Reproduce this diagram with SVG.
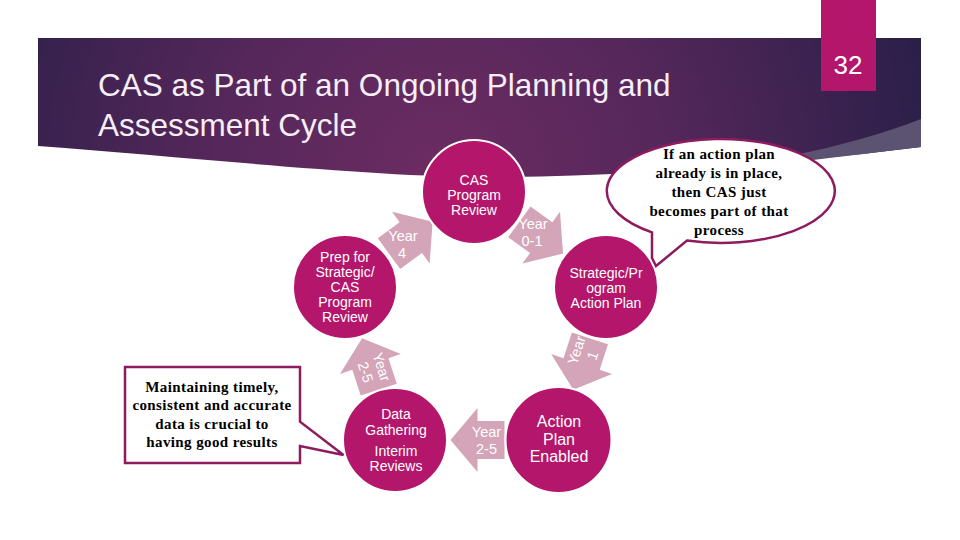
<svg xmlns="http://www.w3.org/2000/svg" xmlns:xlink="http://www.w3.org/1999/xlink" width="960" height="540" viewBox="0 0 960 540">
  <defs>
    <radialGradient id="bannerGrad" gradientUnits="userSpaceOnUse" cx="440" cy="175" r="500">
      <stop offset="0" stop-color="#6c2c62"/>
      <stop offset="0.45" stop-color="#55275b"/>
      <stop offset="1" stop-color="#2a1f48"/>
    </radialGradient>
    <polygon id="arrow" points="-27,-19 0,-19 0,-32 27,0 0,32 0,19 -27,19"/>
    <style>
      .title { font-family: "Liberation Sans", Arial, sans-serif; font-size: 31.5px; fill: #f7eef6; }
      .node circle { fill: #b3166b; stroke: #ffffff; stroke-width: 2; }
      .ntext { font-family: "Liberation Sans", Arial, sans-serif; font-size: 14px; fill: #ffffff; text-anchor: middle; }
      .big { font-size: 16px; }
      .arr { fill: #d4a5b8; }
      .atext { font-family: "Liberation Sans", Arial, sans-serif; font-size: 14.5px; fill: #ffffff; text-anchor: middle; }
      .callout { fill: #ffffff; stroke: #8e1b60; stroke-width: 2.5; stroke-linejoin: miter; }
      .ctext { font-family: "Liberation Serif", "Times New Roman", serif; font-weight: bold; font-size: 15px; letter-spacing: 0.4px; fill: #000000; text-anchor: middle; }
    </style>
  </defs>

  <rect x="0" y="0" width="960" height="540" fill="#ffffff"/>

  <!-- banner -->
  <g id="banner">
    <path d="M38,38 H921 V147 C800,162 650,176 500,177 C380,178 200,158 38,146 Z" fill="url(#bannerGrad)"/>
    <path d="M790,156 C840,146 885,133 921,119 L921,147 C880,152 845,156 813,160 Z" fill="#5c5373"/>
    <text class="title" x="98" y="96">CAS as Part of an Ongoing Planning and</text>
    <text class="title" x="98" y="135.5">Assessment Cycle</text>
  </g>

  <!-- page number -->
  <g id="page-number">
    <rect x="821" y="0" width="55" height="91" fill="#b3166b"/>
    <text x="848" y="74" font-family="Liberation Sans, Arial, sans-serif" font-size="26" fill="#ffffff" text-anchor="middle">32</text>
  </g>

  <!-- connectors (block arrows) -->
  <g id="connectors">
    <g id="arrow-year4">
      <use xlink:href="#arrow" href="#arrow" class="arr" transform="translate(410.8,237.7) rotate(-36)"/>
      <text class="atext" x="403" y="241">Year</text>
      <text class="atext" x="402" y="258">4</text>
    </g>
    <g id="arrow-year01">
      <use xlink:href="#arrow" href="#arrow" class="arr" transform="translate(541.2,237.7) rotate(36)"/>
      <text class="atext" x="533" y="228.5">Year</text>
      <text class="atext" x="532" y="245.5">0-1</text>
    </g>
    <g id="arrow-year1">
      <use xlink:href="#arrow" href="#arrow" class="arr" transform="translate(581.6,364) rotate(108)"/>
      <g transform="translate(584.5,353) rotate(-72)">
        <text class="atext" x="0" y="-3.5">Year</text>
        <text class="atext" x="0" y="13.5">1</text>
      </g>
    </g>
    <g id="arrow-year25-bottom">
      <use xlink:href="#arrow" href="#arrow" class="arr" transform="translate(477.5,440) rotate(180)"/>
      <text class="atext" x="486.5" y="436.5">Year</text>
      <text class="atext" x="486.5" y="453.5">2-5</text>
    </g>
    <g id="arrow-year25-up">
      <use xlink:href="#arrow" href="#arrow" class="arr" transform="translate(370.4,364) rotate(-108)"/>
      <g transform="translate(373.5,369.5) rotate(72)">
        <text class="atext" x="0" y="-3.5">Year</text>
        <text class="atext" x="0" y="13.5">2-5</text>
      </g>
    </g>
  </g>

  <!-- nodes -->
  <g id="node-cas-review" class="node">
    <circle cx="474" cy="192" r="52"/>
    <text class="ntext" x="474" y="185">CAS</text>
    <text class="ntext" x="474" y="200">Program</text>
    <text class="ntext" x="474" y="215">Review</text>
  </g>

  <g id="node-strategic-plan" class="node">
    <circle cx="606" cy="287" r="52"/>
    <text class="ntext" x="606" y="278">Strategic/Pr</text>
    <text class="ntext" x="606" y="293">ogram</text>
    <text class="ntext" x="606" y="307.5">Action Plan</text>
  </g>

  <g id="node-action-enabled" class="node">
    <circle cx="558.5" cy="440" r="53"/>
    <text class="ntext big" x="559" y="427">Action</text>
    <text class="ntext big" x="559" y="445">Plan</text>
    <text class="ntext big" x="559" y="462">Enabled</text>
  </g>

  <g id="node-data-gathering" class="node">
    <circle cx="395" cy="440" r="52"/>
    <text class="ntext" x="396" y="419">Data</text>
    <text class="ntext" x="396" y="435">Gathering</text>
    <text class="ntext" x="396" y="456">Interim</text>
    <text class="ntext" x="396" y="471">Reviews</text>
  </g>

  <g id="node-prep" class="node">
    <circle cx="345" cy="287" r="52"/>
    <text class="ntext" x="345" y="262">Prep for</text>
    <text class="ntext" x="345" y="277">Strategic/</text>
    <text class="ntext" x="345" y="292">CAS</text>
    <text class="ntext" x="345" y="307">Program</text>
    <text class="ntext" x="345" y="322">Review</text>
  </g>

  <!-- callouts -->
  <g id="callout-action-plan">
    <path class="callout" d="M652,232.4 A114,52 0 1 1 687,240.6 L656,266 L652,258 Z"/>
    <text class="ctext" x="719" y="159">If an action plan</text>
    <text class="ctext" x="719" y="178">already is in place,</text>
    <text class="ctext" x="719" y="197">then CAS just</text>
    <text class="ctext" x="719" y="216">becomes part of that</text>
    <text class="ctext" x="719" y="235">process</text>
  </g>

  <g id="callout-data">
    <path class="callout" d="M125,367 H300 V421.7 L343.5,455 L300,446 V463 H125 Z"/>
    <text class="ctext" x="212" y="391.5">Maintaining timely,</text>
    <text class="ctext" x="212" y="410">consistent and accurate</text>
    <text class="ctext" x="212" y="428.5">data is crucial to</text>
    <text class="ctext" x="212" y="447">having good results</text>
  </g>
</svg>
